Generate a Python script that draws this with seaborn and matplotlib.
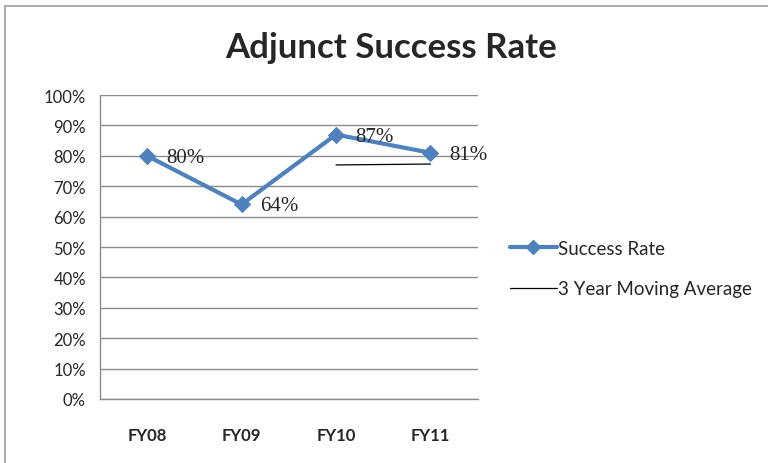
import matplotlib.pyplot as plt
import seaborn as sns
import pandas as pd
from matplotlib.patches import Rectangle
from matplotlib.lines import Line2D

# -----------------------
# Data
# -----------------------
years = ["FY08", "FY09", "FY10", "FY11"]
success_rate = [80, 64, 87, 81]
ma_years = ["FY10", "FY11"]
moving_avg = [77.0, 77.3]

df = pd.DataFrame({"year": years, "rate": success_rate})

# -----------------------
# Style
# -----------------------
sns.set_style("white")
plt.rcParams["font.family"] = ["Lato", "DejaVu Sans"]

blue = "#4F81BD"
grid_gray = "#8C8C8C"

fig = plt.figure(figsize=(7.68, 4.64), dpi=100)
ax = fig.add_axes([0.130, 0.138, 0.492, 0.655])

# chart border
fig.patches.append(Rectangle((5 / 768, -0.1), 1.0, 1.1 - 7 / 464, transform=fig.transFigure,
                             fill=False, edgecolor="#9E9E9E", linewidth=1.2))

# -----------------------
# Lines
# -----------------------
sns.lineplot(data=df, x="year", y="rate", ax=ax, color=blue, linewidth=3,
             marker="D", markersize=8, markeredgecolor=blue, sort=False)

ax.set_xlim(-0.5, 3.5)
ma_pos = [years.index(y) for y in ma_years]
ax.plot(ma_pos, moving_avg, color="black", linewidth=0.9)

for i, v in enumerate(success_rate):
    ax.text(i + 0.2, v - 0.5, f"{v}%", fontsize=15, va="center", ha="left",
            family=["Liberation Serif"])

# -----------------------
# Axes
# -----------------------
ax.set_ylim(0, 100)
ax.set_yticks(range(0, 101, 10))
ax.set_yticklabels([f"{t}%" for t in range(0, 101, 10)], fontsize=12)
ax.set_xticks([0, 1, 2, 3])
ax.set_xticklabels(years, fontsize=12, fontweight="bold")
ax.set_xticks([-0.5, 0.5, 1.5, 2.5, 3.5], minor=True)
ax.tick_params(axis="x", which="major", length=0, pad=20)
ax.tick_params(axis="x", which="minor", length=6, color=grid_gray, direction="out")
ax.tick_params(axis="y", length=6, color=grid_gray, direction="out", pad=4)
ax.yaxis.grid(True, color=grid_gray, linewidth=1)
ax.set_xlabel("")
ax.set_ylabel("")

for side in ["top", "right"]:
    ax.spines[side].set_visible(False)
for side in ["left", "bottom"]:
    ax.spines[side].set_color(grid_gray)
    ax.spines[side].set_linewidth(1)

fig.text(391 / 768, 1 - 48 / 464, "Adjunct Success Rate", fontsize=25,
         fontweight="bold", ha="center", va="center")

# -----------------------
# Legend
# -----------------------
handles = [
    Line2D([], [], color=blue, linewidth=3, marker="D", markersize=7),
    Line2D([], [], color="black", linewidth=0.9),
]
fig.legend(handles, ["Success Rate", "3 Year Moving Average"],
           loc="center left", bbox_to_anchor=(0.642, 0.419), frameon=False,
           fontsize=13.5, handlelength=2.5, handletextpad=0.05, labelspacing=1.25)

plt.savefig("out.png", dpi=100)
